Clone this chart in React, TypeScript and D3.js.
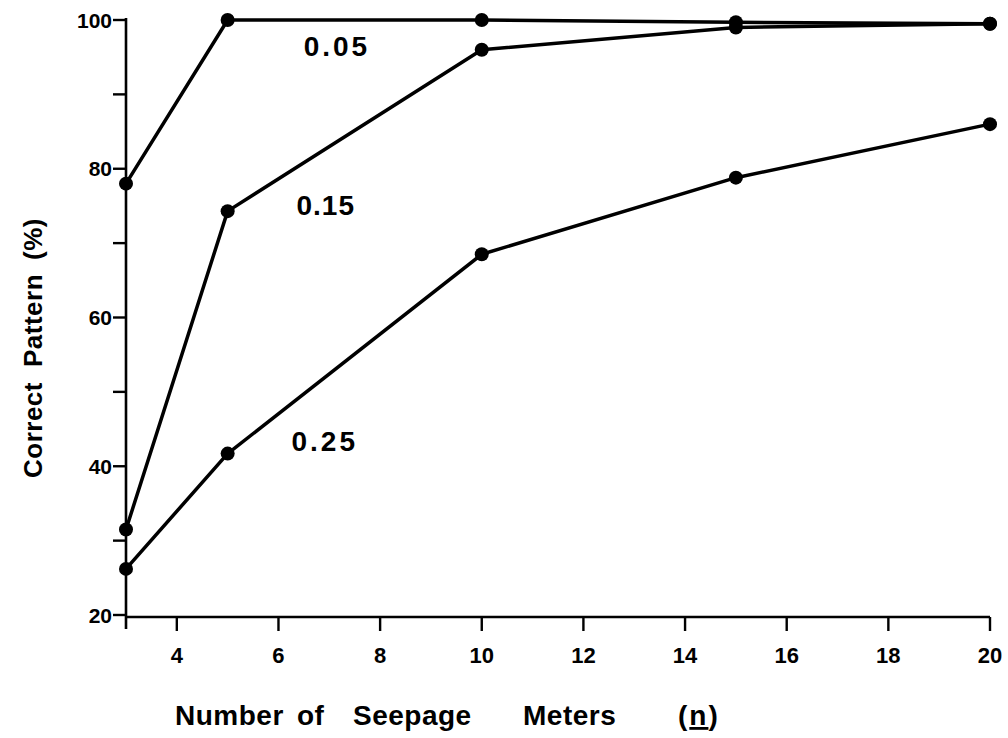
import React from "react";
import * as d3 from "d3";

const meters = [3, 5, 10, 15, 20];
const err005 = [78, 100, 100, 99.7, 99.5];
const err015 = [31.5, 74.3, 96, 99, 99.5];
const err025 = [26.2, 41.7, 68.5, 78.8, 86];
const seriesNames = ["0.05", "0.15", "0.25"];
const labelPos = [
  { x: 7.15, y: 95.1 },
  { x: 6.93, y: 73.8 },
  { x: 6.91, y: 42.0 },
];
const xTicks = [4, 6, 8, 10, 12, 14, 16, 18, 20];
const yTicksMajor = [20, 40, 60, 80, 100];
const yTicksMinor = [30, 50, 70, 90];
const xTitleWords = ["Number", "of", "Seepage", "Meters"];
const yTitleWords = ["Correct", "Pattern", "(%)"];

const W = 1008;
const H = 738;
const left = 126;
const right = 990;
const top = 20;
const bottom = 615;

export default function App() {
  const x = d3.scaleLinear().domain([3, 20]).range([left, right]);
  const y = d3.scaleLinear().domain([20, 100]).range([bottom, top]);
  const series = [err005, err015, err025];
  const line = d3
    .line<number>()
    .x((_, i) => x(meters[i]))
    .y((d) => y(d));
  const font = "'Liberation Sans', Arial, sans-serif";
  const xWordX = [175, 297, 353, 523];
  const yWordY = [478, 367, 260];
  return (
    <svg
      width={W}
      height={H}
      style={{ position: "absolute", left: 0, top: 0, background: "#fff" }}
      fontFamily={font}
    >
      {/* axes */}
      <line x1={x(3)} x2={x(3)} y1={y(100) - 2} y2={bottom + 14} stroke="#000" strokeWidth={2.6} />
      <line x1={x(3)} x2={x(20)} y1={bottom + 2} y2={bottom + 2} stroke="#000" strokeWidth={2.6} />
      {yTicksMajor.concat(yTicksMinor).map((t) => (
        <line key={"yt" + t} x1={x(3) - 13} x2={x(3)} y1={y(t)} y2={y(t)} stroke="#000" strokeWidth={2.4} />
      ))}
      {yTicksMajor.map((t) => (
        <text
          key={"yl" + t}
          x={x(3) - 14}
          y={y(t)}
          dy="0.36em"
          textAnchor="end"
          fontSize={21}
          fontWeight="bold"
        >
          {t}
        </text>
      ))}
      {xTicks.map((t) => (
        <g key={"xt" + t}>
          <line x1={x(t)} x2={x(t)} y1={bottom + 2} y2={bottom + 16} stroke="#000" strokeWidth={2.4} />
          <text x={x(t)} y={663} textAnchor="middle" fontSize={22} fontWeight="bold">
            {t}
          </text>
        </g>
      ))}
      {/* series */}
      {series.map((s, k) => (
        <g key={"s" + k}>
          <path d={line(s) || ""} fill="none" stroke="#000" strokeWidth={3.5} strokeLinejoin="round" />
          {s.map((v, i) => (
            <circle key={i} cx={x(meters[i])} cy={y(v)} r={7} fill="#000" />
          ))}
          <text
            x={x(labelPos[k].x)}
            y={y(labelPos[k].y)}
            textAnchor="middle"
            fontSize={28}
            fontWeight="bold"
            letterSpacing={k === 1 ? 1 : 3}
          >
            {seriesNames[k]}
          </text>
        </g>
      ))}
      {/* axis titles */}
      <g transform="translate(42, 0) rotate(-90)">
        {yTitleWords.map((w, i) => (
          <text key={w} x={-yWordY[i]} y={0} fontSize={26} fontWeight="bold" letterSpacing={0.5}>
            {w}
          </text>
        ))}
      </g>
      {xTitleWords.map((w, i) => (
        <text key={w} x={xWordX[i]} y={725} fontSize={28} fontWeight="bold" letterSpacing={0.5}>
          {w}
        </text>
      ))}
      <text x={678} y={725} fontSize={28} fontWeight="bold" letterSpacing={2}>
        (<tspan textDecoration="underline">n</tspan>)
      </text>
    </svg>
  );
}
